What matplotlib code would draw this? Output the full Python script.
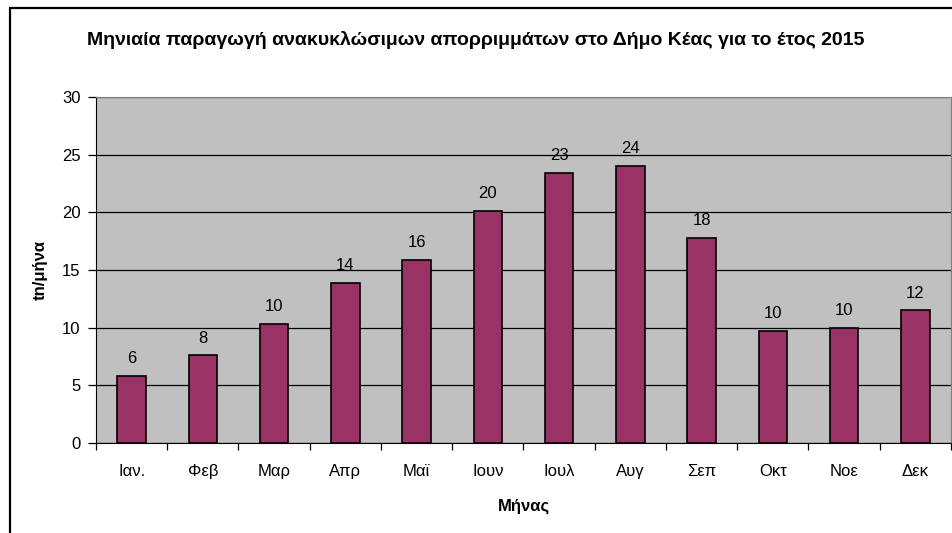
import matplotlib.pyplot as plt
from matplotlib.patches import Rectangle

months = ['Ιαν.', 'Φεβ', 'Μαρ', 'Απρ', 'Μαϊ', 'Ιουν', 'Ιουλ', 'Αυγ', 'Σεπ', 'Οκτ', 'Νοε', 'Δεκ']
tons = [5.8, 7.6, 10.3, 13.9, 15.9, 20.1, 23.4, 24.0, 17.8, 9.7, 10.0, 11.5]
labels = ['6', '8', '10', '14', '16', '20', '23', '24', '18', '10', '10', '12']

plt.rcParams['font.family'] = ['Liberation Sans', 'DejaVu Sans']

fig = plt.figure(figsize=(9.53, 5.33), dpi=100)
ax = fig.add_axes([96/953, 1 - 443/533, (951-96)/953, (443-97)/533])

# outer chart frame (left and top edges visible)
fig.add_artist(Rectangle((10/953, -0.05), 1.2, (533-8)/533 + 0.05, transform=fig.transFigure,
                         fill=False, edgecolor='black', linewidth=1.6))

x = range(len(months))
ax.set_facecolor('#C0C0C0')
ax.bar(x, tons, width=0.4, color='#993366', edgecolor='black', linewidth=1.2, zorder=3)
for xi, v, lab in zip(x, tons, labels):
    ax.annotate(lab, (xi, v), xytext=(0, 7), textcoords='offset points',
                ha='center', va='bottom', fontsize=12)

ax.set_xlim(-0.5, len(months) - 0.5)
ax.set_ylim(0, 30)
ax.set_yticks(range(0, 31, 5))
ax.yaxis.grid(True, color='black', linewidth=0.9, zorder=1)
ax.set_axisbelow(True)

ax.set_xticks([i + 0.5 for i in range(-1, len(months))], minor=False)
ax.set_xticklabels([])
ax.set_xticks(list(x), minor=True)
ax.set_xticklabels(months, minor=True, fontsize=12)
ax.tick_params(axis='x', which='major', direction='out', length=5, width=0.9)
ax.tick_params(axis='x', which='minor', length=0, pad=15)
ax.tick_params(axis='y', direction='out', length=6, width=0.9, labelsize=12, pad=5)

for side in ['top', 'right']:
    ax.spines[side].set_color('#808080')
for side in ['left', 'bottom']:
    ax.spines[side].set_color('black')

ax.set_xlabel('Μήνας', fontsize=12, fontweight='bold', labelpad=14)
ax.set_ylabel('tn/μήνα', fontsize=12, fontweight='bold', labelpad=10)

fig.text(476/953, 1 - 40/533, 'Μηνιαία παραγωγή ανακυκλώσιμων απορριμμάτων στο Δήμο Κέας για το έτος 2015',
         ha='center', va='center', fontsize=14, fontweight='bold')

fig.savefig('out.png', dpi=100)
